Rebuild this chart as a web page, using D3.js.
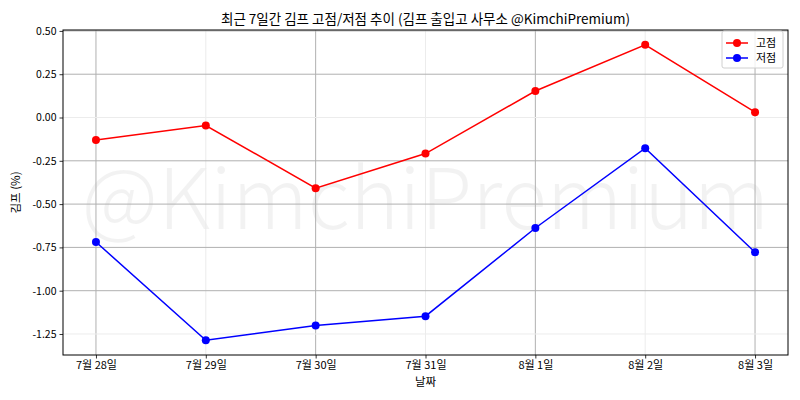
<!DOCTYPE html>
<html>
<head>
<meta charset="utf-8">
<script src="https://cdn.jsdelivr.net/npm/d3@7"></script>
<style>
  body { margin: 0; background: #fff; }
  text { font-family: "Noto Sans CJK KR", "Noto Sans", sans-serif; }
</style>
</head>
<body>
<div id="chart"></div>
<script>
// chart data
var dates = ['7월 28일', '7월 29일', '7월 30일', '7월 31일', '8월 1일', '8월 2일', '8월 3일'];
var highs = [-0.13, -0.046, -0.408, -0.208, 0.153, 0.42, 0.031];
var lows = [-0.719, -1.286, -1.201, -1.147, -0.638, -0.177, -0.778];
var yTicks = [-1.25, -1.00, -0.75, -0.50, -0.25, 0.00, 0.25, 0.50];

var svgWidth = 800;
var svgHeight = 400;

var margin = { top: 30, right: 12, bottom: 45, left: 63 };
var width = svgWidth - margin.left - margin.right;
var height = svgHeight - margin.top - margin.bottom;

var svg = d3.select('#chart')
  .append('svg')
  .attr('width', svgWidth)
  .attr('height', svgHeight);

var chartGroup = svg.append('g')
  .attr('transform', `translate(${margin.left}, ${margin.top})`);

// matplotlib style 5% padding on both axes
var n = dates.length;
var xScale = d3.scaleLinear()
  .domain([-0.05 * (n - 1), (n - 1) * 1.05])
  .range([0, width]);

var allVals = highs.concat(lows);
var yMin = d3.min(allVals), yMax = d3.max(allVals);
var pad = (yMax - yMin) * 0.05;
var yScale = d3.scaleLinear()
  .domain([yMin - pad, yMax + pad])
  .range([height, 0]);

// watermark
chartGroup.append('text')
  .attr('x', width / 2)
  .attr('y', height / 2)
  .attr('text-anchor', 'middle')
  .attr('dominant-baseline', 'central')
  .attr('font-size', '84px')
  .attr('font-weight', 300)
  .attr('fill', '#000')
  .attr('fill-opacity', 0.05)
  .text('@KimchiPremium');

// grid (some lines come out much lighter in the reference)
var faintX = [1, 3, 5];
var faintY = [0.00, -1.25];

chartGroup.selectAll('.xgrid')
  .data(d3.range(n))
  .enter()
  .append('line')
  .attr('x1', d => xScale(d))
  .attr('x2', d => xScale(d))
  .attr('y1', 0)
  .attr('y2', height)
  .attr('stroke', d => faintX.includes(d) ? '#ececec' : '#b0b0b0')
  .attr('stroke-width', 1);

chartGroup.selectAll('.ygrid')
  .data(yTicks)
  .enter()
  .append('line')
  .attr('x1', 0)
  .attr('x2', width)
  .attr('y1', d => yScale(d))
  .attr('y2', d => yScale(d))
  .attr('stroke', d => faintY.includes(d) ? '#ececec' : '#b0b0b0')
  .attr('stroke-width', 1);

// axes
var bottomAxis = d3.axisBottom(xScale)
  .tickValues(d3.range(n))
  .tickFormat(i => dates[i])
  .tickSize(3.5)
  .tickPadding(3);

var leftAxis = d3.axisLeft(yScale)
  .tickValues(yTicks)
  .tickFormat(v => v.toFixed(2))
  .tickSize(3.5)
  .tickPadding(3);

var xAxis = chartGroup.append('g')
  .attr('transform', `translate(0, ${height})`)
  .call(bottomAxis);

var yAxis = chartGroup.append('g')
  .call(leftAxis);

[xAxis, yAxis].forEach(function(ax) {
  ax.select('.domain').remove();
  ax.selectAll('text')
    .attr('fill', '#000')
    .style('font-family', '"Noto Sans CJK KR", sans-serif');
  ax.selectAll('line').attr('stroke', '#000').attr('stroke-width', 0.8);
});
xAxis.selectAll('text').attr('font-size', '11px');
yAxis.selectAll('text').attr('font-size', '10.5px');

// frame
chartGroup.append('rect')
  .attr('width', width)
  .attr('height', height)
  .attr('fill', 'none')
  .attr('stroke', '#000')
  .attr('stroke-width', 1);

// lines and markers
var series = [
  { name: '고점', values: highs, color: 'red' },
  { name: '저점', values: lows, color: 'blue' }
];

var line = d3.line()
  .x((d, i) => xScale(i))
  .y(d => yScale(d));

series.forEach(function(s) {
  chartGroup.append('path')
    .datum(s.values)
    .attr('d', line)
    .attr('fill', 'none')
    .attr('stroke', s.color)
    .attr('stroke-width', 1.5);

  chartGroup.selectAll(null)
    .data(s.values)
    .enter()
    .append('circle')
    .attr('cx', (d, i) => xScale(i))
    .attr('cy', d => yScale(d))
    .attr('r', 4)
    .attr('fill', s.color);
});

// legend
var legend = chartGroup.append('g')
  .attr('transform', `translate(${width - 66}, 1)`);

legend.append('rect')
  .attr('width', 61)
  .attr('height', 37)
  .attr('rx', 2)
  .attr('fill', '#fff')
  .attr('fill-opacity', 0.8)
  .attr('stroke', '#d0d0d0');

series.forEach(function(s, i) {
  var row = legend.append('g')
    .attr('transform', `translate(0, ${12 + i * 15})`);
  row.append('line')
    .attr('x1', 4).attr('x2', 26)
    .attr('stroke', s.color)
    .attr('stroke-width', 1.5);
  row.append('circle')
    .attr('cx', 15)
    .attr('r', 4)
    .attr('fill', s.color);
  row.append('text')
    .attr('x', 34)
    .attr('dy', '0.35em')
    .attr('font-size', '11px')
    .text(s.name);
});

// titles
svg.append('text')
  .attr('x', margin.left + width / 2)
  .attr('y', 24)
  .attr('text-anchor', 'middle')
  .attr('font-size', '13.5px')
  .text('최근 7일간 김프 고점/저점 추이 (김프 출입고 사무소 @KimchiPremium)');

svg.append('text')
  .attr('x', margin.left + width / 2)
  .attr('y', 386)
  .attr('text-anchor', 'middle')
  .attr('font-size', '11.5px')
  .text('날짜');

svg.append('text')
  .attr('transform', `translate(20, ${margin.top + height / 2}) rotate(-90)`)
  .attr('text-anchor', 'middle')
  .attr('font-size', '11.5px')
  .text('김프 (%)');
</script>
</body>
</html>
